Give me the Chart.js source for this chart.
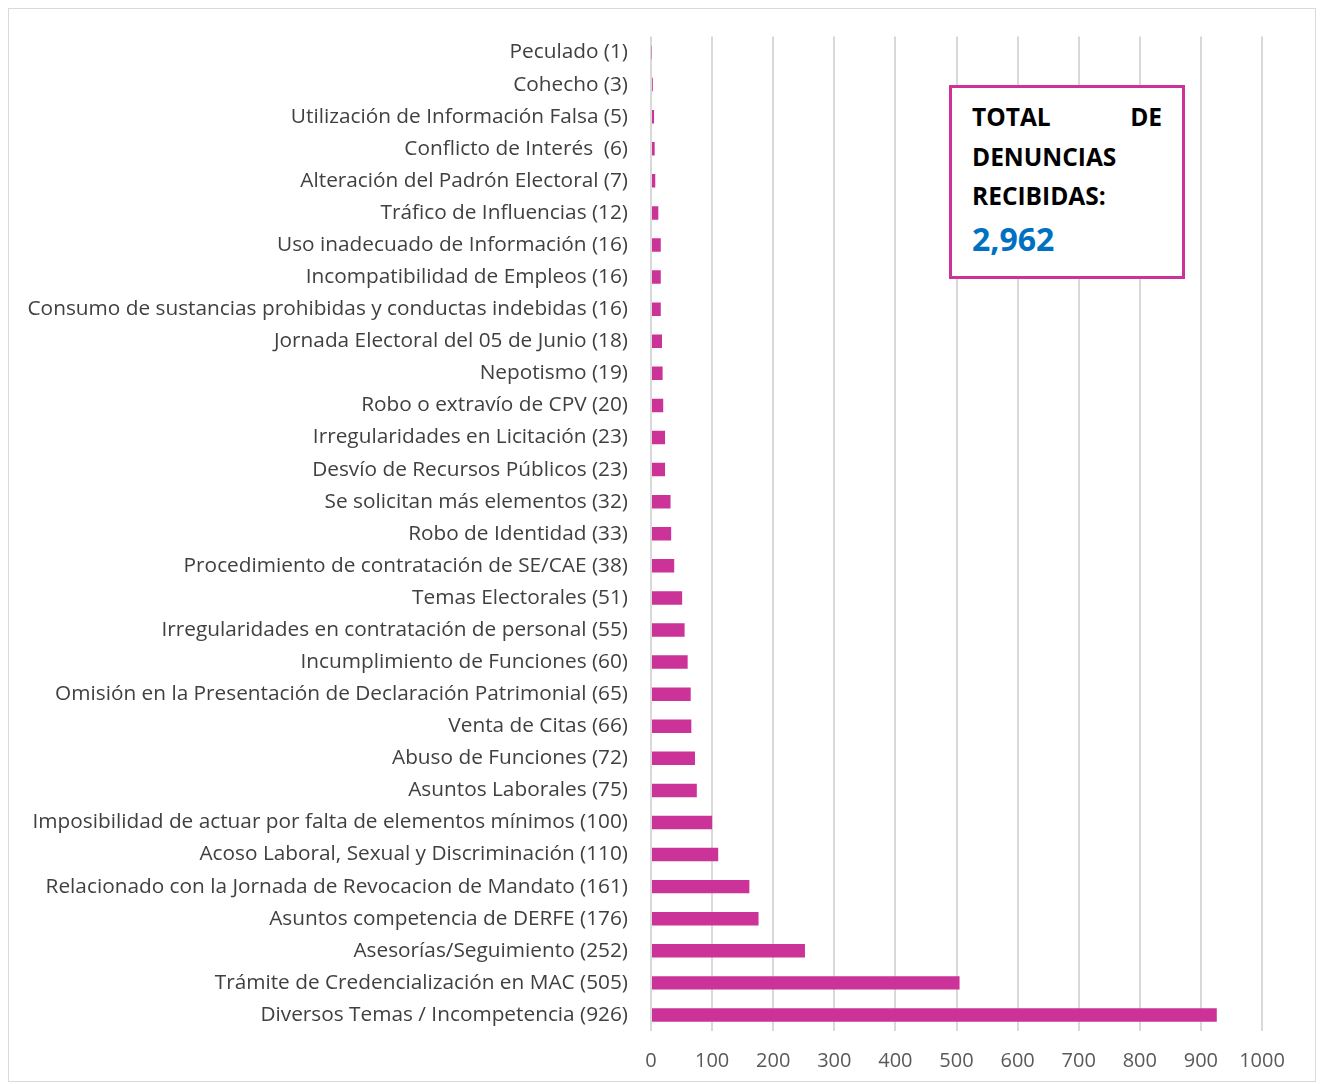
<!DOCTYPE html>
<html>
<head>
<meta charset="utf-8">
<script src="https://cdn.jsdelivr.net/npm/chart.js@4/dist/chart.umd.min.js"></script>
<style>
  body { margin: 0; background: #fff; }
  #frame { position: absolute; left: 8px; top: 8px; width: 1306px; height: 1072px; border: 1px solid #d9d9d9; background: #fff; }
  #wrap { position: absolute; left: 0; top: 0; width: 1306px; height: 1072px; }
  #total {
    position: absolute; left: 940px; top: 76px; width: 190px; height: 169px;
    border: 3px solid #cc3399; background: #fff; padding: 9px 20px 10px 20px;
    font-family: "Open Sans", sans-serif; font-weight: bold; color: #000;
  }
  #total .t { font-size: 24.5px; line-height: 39.5px; text-align: justify; text-align-last: justify; }
  #total .l { font-size: 24.5px; line-height: 39.5px; }
  #total .n { font-size: 32px; line-height: 46px; color: #0070c0; }
</style>
</head>
<body>
<div id="frame">
  <div id="wrap"><canvas id="grafica"></canvas></div>
  <div id="total">
    <div class="t">TOTAL DE</div>
    <div class="l">DENUNCIAS</div>
    <div class="l">RECIBIDAS:</div>
    <div class="n">2,962</div>
  </div>
</div>
<script>
// Categorías (de arriba hacia abajo) y número de denuncias
const categorias = [
  'Peculado (1)',
  'Cohecho (3)',
  'Utilización de Información Falsa (5)',
  'Conflicto de Interés  (6)',
  'Alteración del Padrón Electoral (7)',
  'Tráfico de Influencias (12)',
  'Uso inadecuado de Información (16)',
  'Incompatibilidad de Empleos (16)',
  'Consumo de sustancias prohibidas y conductas indebidas (16)',
  'Jornada Electoral del 05 de Junio (18)',
  'Nepotismo (19)',
  'Robo o extravío de CPV (20)',
  'Irregularidades en Licitación (23)',
  'Desvío de Recursos Públicos (23)',
  'Se solicitan más elementos (32)',
  'Robo de Identidad (33)',
  'Procedimiento de contratación de SE/CAE (38)',
  'Temas Electorales (51)',
  'Irregularidades en contratación de personal (55)',
  'Incumplimiento de Funciones (60)',
  'Omisión en la Presentación de Declaración Patrimonial (65)',
  'Venta de Citas (66)',
  'Abuso de Funciones (72)',
  'Asuntos Laborales (75)',
  'Imposibilidad de actuar por falta de elementos mínimos (100)',
  'Acoso Laboral, Sexual y Discriminación (110)',
  'Relacionado con la Jornada de Revocacion de Mandato (161)',
  'Asuntos competencia de DERFE (176)',
  'Asesorías/Seguimiento (252)',
  'Trámite de Credencialización en MAC (505)',
  'Diversos Temas / Incompetencia (926)'
];
const denuncias = [1, 3, 5, 6, 7, 12, 16, 16, 16, 18, 19, 20, 23, 23, 32, 33, 38, 51, 55, 60, 65, 66, 72, 75, 100, 110, 161, 176, 252, 505, 926];
const ejeX = { min: 0, max: 1000, paso: 100 };

const ctx = document.getElementById('grafica').getContext('2d');
new Chart(ctx, {
  type: 'bar',
  data: {
    labels: categorias,
    datasets: [{
      data: denuncias,
      backgroundColor: '#cc3399',
      barPercentage: 0.42,
      categoryPercentage: 1.0
    }]
  },
  options: {
    indexAxis: 'y',
    responsive: true,
    maintainAspectRatio: false,
    animation: false,
    layout: { padding: { top: 26, right: 53, bottom: 0, left: 0 } },
    plugins: { legend: { display: false }, tooltip: { enabled: false } },
    scales: {
      x: {
        min: ejeX.min, max: ejeX.max,
        ticks: {
          stepSize: ejeX.paso, color: '#595959', padding: 18,
          font: { family: 'Open Sans', size: 20 },
          callback: function(v) { return String(v); }
        },
        grid: { color: '#d9d9d9', lineWidth: 2, drawTicks: false },
        border: { display: false },
        afterFit: function(scale) { scale.height = 50; }
      },
      y: {
        ticks: { color: '#404040', padding: 15, autoSkip: false, font: { family: 'Open Sans', size: 20.8 } },
        grid: { display: false },
        border: { display: false },
        afterFit: function(scale) { scale.width = 642; }
      }
    }
  }
});
</script>
</body>
</html>
